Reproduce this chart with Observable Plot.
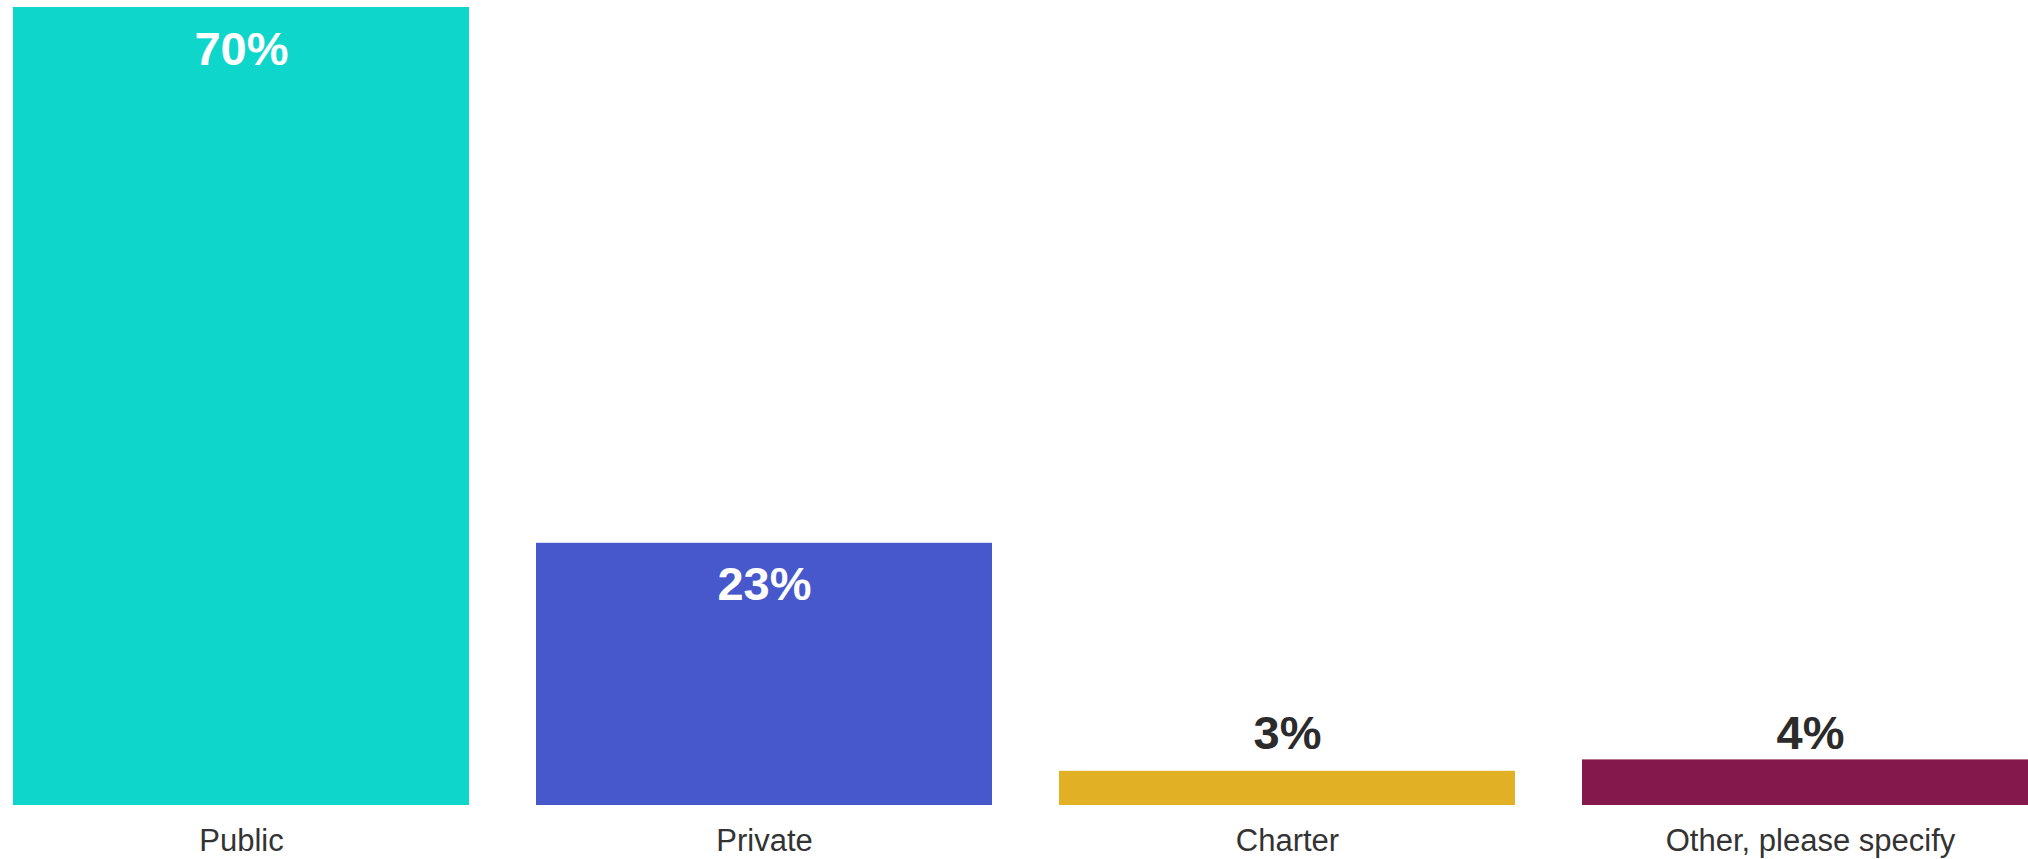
<!DOCTYPE html>
<html>
<head>
<meta charset="utf-8">
<script src="https://cdn.jsdelivr.net/npm/d3@7"></script>
<script src="https://cdn.jsdelivr.net/npm/@observablehq/plot@0.6"></script>
<style>
  html, body { margin: 0; padding: 0; background: #fff; overflow: hidden; }
  #chart svg { display: block; overflow: hidden; }
</style>
</head>
<body>
<div id="chart"></div>
<script>
const categories = ["Public", "Private", "Charter", "Other, please specify"];
const values = [70, 23, 3, 4];
const colors = ["#0FD6CB", "#4658CC", "#E1B024", "#84184C"];

const data = categories.map((c, i) => ({category: c, value: values[i]}));
const insideThreshold = 10;
const inside = data.filter(d => d.value >= insideThreshold);
const outside = data.filter(d => d.value < insideThreshold);
const outsideLevel = d3.max(outside, d => d.value);

const font = "'Liberation Sans', Arial, Helvetica, sans-serif";

const chart = Plot.plot({
  width: 2028,
  height: 859,
  marginTop: 7,
  marginBottom: 54,
  marginLeft: 0,
  marginRight: 0,
  style: {fontFamily: font, background: "#fff"},
  x: {domain: categories, range: [12, 2039], paddingInner: 0.129, paddingOuter: 0, label: null},
  y: {domain: [0, 70], axis: null},
  color: {domain: categories, range: colors},
  marks: [
    Plot.barY(data, {x: "category", y: "value", fill: "category"}),
    Plot.text(inside, {
      x: "category", y: "value", text: d => `${d.value}%`,
      fill: "#ffffff", fontSize: 47, fontWeight: "bold",
      lineAnchor: "bottom", dy: 57
    }),
    Plot.text(outside, {
      x: "category", y: () => outsideLevel, text: d => `${d.value}%`,
      fill: "#2b2b2b", fontSize: 47, fontWeight: "bold",
      lineAnchor: "bottom", dy: -11
    }),
    Plot.axisX({
      tickSize: 0, tickPadding: 23, fontSize: 31, fill: "#333333", label: null
    })
  ]
});
document.getElementById("chart").appendChild(chart);
</script>
</body>
</html>
